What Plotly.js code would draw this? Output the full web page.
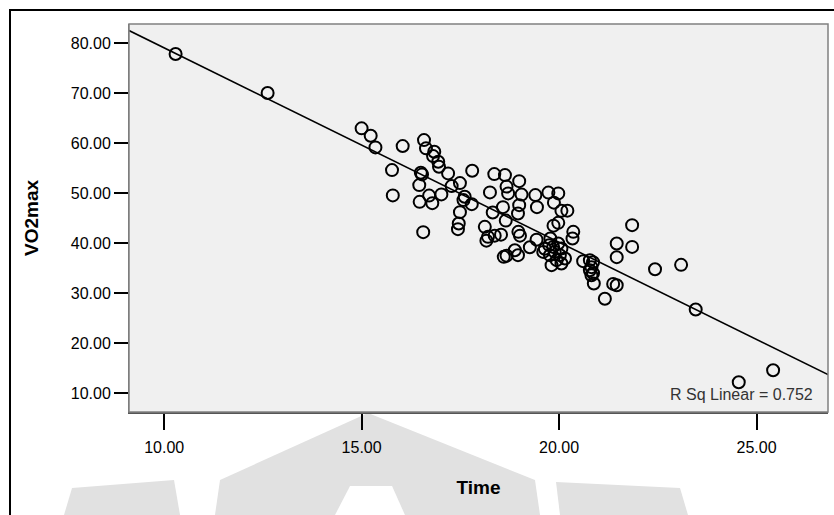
<!DOCTYPE html>
<html>
<head>
<meta charset="utf-8">
<script src="https://cdn.plot.ly/plotly-3.0.1.min.js"></script>
<style>
  html, body { margin: 0; padding: 0; background: #ffffff; }
  #chart { width: 834px; height: 515px; }
</style>
</head>
<body>
<div id="chart"></div>
<script>
// ---- Data ----
const timeValues = [
  10.29, 12.62, 15.00, 15.23, 15.35, 16.04, 15.77, 15.79, 16.58, 16.63,
  16.84, 16.81, 16.94, 16.96, 17.19, 16.50, 16.53, 16.46, 17.80, 17.49,
  17.28, 17.02, 16.71, 16.47, 16.79, 17.61, 17.58, 17.79, 17.49, 17.46,
  17.44, 16.56, 18.36, 18.63, 18.99, 18.25, 18.67, 18.71, 19.05, 19.40,
  19.44, 18.99, 18.96, 18.58, 18.32, 18.65, 19.73, 19.98, 19.87, 20.06,
  20.21, 19.98, 19.86, 18.12, 18.16, 18.20, 18.37, 18.53, 18.97, 19.01,
  19.43, 19.26, 18.88, 18.96, 18.60, 18.67, 19.64, 19.60, 20.36, 20.34,
  19.78, 19.75, 19.85, 19.98, 20.06, 19.89, 19.77, 20.02, 19.94, 20.15,
  19.81, 20.06, 20.61, 20.78, 20.86, 20.82, 20.78, 20.86, 20.82, 20.88,
  21.37, 21.46, 21.16, 21.46, 21.46, 21.85, 21.85, 22.43, 23.09, 23.46,
  25.42, 24.55
];
const vo2maxValues = [
  77.89, 70.07, 63.00, 61.51, 59.19, 59.45, 54.64, 49.57, 60.65, 58.99,
  58.31, 57.44, 56.30, 55.30, 53.98, 54.10, 53.78, 51.63, 54.50, 52.03,
  51.43, 49.77, 49.53, 48.28, 48.02, 49.29, 48.63, 47.82, 46.22, 43.95,
  42.81, 42.21, 53.84, 53.64, 52.43, 50.17, 51.33, 49.97, 49.73, 49.63,
  47.22, 47.62, 45.96, 47.22, 46.16, 44.52, 50.13, 49.97, 48.12, 46.48,
  46.52, 44.07, 43.51, 43.27, 40.51, 41.27, 41.51, 41.71, 42.27, 41.51,
  40.71, 39.20, 38.60, 37.60, 37.26, 37.50, 38.90, 38.26, 42.27, 40.95,
  40.95, 39.61, 39.26, 39.95, 38.94, 38.26, 37.60, 37.60, 36.60, 36.94,
  35.60, 35.94, 36.40, 36.60, 36.20, 35.20, 34.59, 33.99, 33.59, 31.93,
  31.85, 31.59, 28.88, 39.95, 37.20, 43.61, 39.26, 34.79, 35.66, 26.72,
  14.55, 12.14
];
const xTickValues = [10, 15, 20, 25];
const yTickValues = [10, 20, 30, 40, 50, 60, 70, 80];
const xTitle = "Time";
const yTitle = "VO2max";
const rSquaredLabel = "R Sq Linear = 0.752";
const xRange = [9.11, 26.81];
const yRange = [6.19, 83.9];

// ---- Least-squares fit line from the data ----
function linearFit(xs, ys) {
  const n = xs.length;
  let sx = 0, sy = 0, sxx = 0, sxy = 0;
  for (let i = 0; i < n; i++) { sx += xs[i]; sy += ys[i]; sxx += xs[i]*xs[i]; sxy += xs[i]*ys[i]; }
  const slope = (n*sxy - sx*sy) / (n*sxx - sx*sx);
  const intercept = (sy - slope*sx) / n;
  return { slope, intercept };
}
const fit = linearFit(timeValues, vo2maxValues);
const fitX = xRange.slice();
const fitY = fitX.map(x => fit.intercept + fit.slope * x);

// ---- Layout geometry (pixels) ----
const W = 834, H = 515;
const PL = 129, PR = 828, PT = 24, PB = 412;
const px2x = p => (p - PL) / (PR - PL);
const py2y = p => (PB - p) / (PB - PT);
function polyPath(pts) {
  return 'M' + pts.map(p => px2x(p[0]).toFixed(4) + ',' + py2y(p[1]).toFixed(4)).join(' L') + ' Z';
}

const traces = [
  {
    type: 'scatter', mode: 'lines',
    x: fitX, y: fitY,
    line: { color: '#000000', width: 1.6 },
    hoverinfo: 'skip', showlegend: false, cliponaxis: true
  },
  {
    type: 'scatter', mode: 'markers',
    x: timeValues, y: vo2maxValues,
    marker: { symbol: 'circle-open', size: 12, color: '#000000', line: { color: '#000000', width: 2 } },
    showlegend: false, cliponaxis: true
  }
];

const axisFont = { family: 'Liberation Sans, Arial, sans-serif', size: 16, color: '#000000' };
const titleFont = { family: 'Liberation Sans, Arial, sans-serif', size: 19, color: '#000000', weight: 'bold' };

const watermark = '#e1e1e1';
const layout = {
  width: W, height: H,
  margin: { l: PL, r: W - PR, t: PT, b: H - PB, pad: 0 },
  paper_bgcolor: '#ffffff',
  plot_bgcolor: '#f0f0f0',
  showlegend: false,
  xaxis: {
    range: xRange,
    tickvals: xTickValues,
    ticktext: xTickValues.map(v => v.toFixed(2)),
    ticks: 'outside', ticklen: 16, tickwidth: 2, tickcolor: '#000000',
    ticklabelstandoff: 4,
    tickfont: axisFont,
    showgrid: false, zeroline: false,
    showline: true, linecolor: '#555555', linewidth: 1.5,
    title: { text: '<b>' + xTitle + '</b>', font: titleFont, standoff: 26 }
  },
  yaxis: {
    range: yRange,
    tickvals: yTickValues,
    ticktext: yTickValues.map(v => v.toFixed(2)),
    ticks: 'outside', ticklen: 14, tickwidth: 2, tickcolor: '#000000',
    tickfont: axisFont,
    showgrid: false, zeroline: false,
    showline: true, linecolor: '#777777', linewidth: 1,
    title: { text: '<b>' + yTitle + '</b>', font: titleFont, standoff: 27 }
  },
  shapes: [
    // plot frame (grey)
    { type: 'rect', xref: 'paper', yref: 'paper', x0: 0, x1: 1, y0: 0, y1: 1,
      line: { color: '#808080', width: 1.5 }, fillcolor: 'rgba(0,0,0,0)', layer: 'above' },
    // outer black frame
    { type: 'rect', xref: 'paper', yref: 'paper',
      x0: px2x(10), x1: px2x(W + 10), y0: py2y(H + 10), y1: py2y(10),
      line: { color: '#000000', width: 2 }, fillcolor: 'rgba(0,0,0,0)', layer: 'above' },
    // faint watermark emblem below the plot
    { type: 'path', xref: 'paper', yref: 'paper', layer: 'below', fillcolor: watermark, line: { width: 0 },
      path: polyPath([[368, 413], [535, 480], [540, 515], [215, 515], [220, 480]]) },
    { type: 'path', xref: 'paper', yref: 'paper', layer: 'below', fillcolor: '#ffffff', line: { width: 0 },
      path: polyPath([[335, 515], [350, 486], [392, 486], [405, 515]]) },
    { type: 'path', xref: 'paper', yref: 'paper', layer: 'below', fillcolor: watermark, line: { width: 0 },
      path: polyPath([[72, 488], [174, 480], [180, 515], [64, 515]]) },
    { type: 'path', xref: 'paper', yref: 'paper', layer: 'below', fillcolor: watermark, line: { width: 0 },
      path: polyPath([[556, 482], [680, 488], [688, 515], [560, 515]]) }
  ],
  annotations: [
    { text: rSquaredLabel, xref: 'paper', yref: 'paper',
      x: px2x(815), y: py2y(394), xanchor: 'right', yanchor: 'middle',
      showarrow: false, font: { family: 'Liberation Sans, Arial, sans-serif', size: 16, color: '#333333' } }
  ]
};

Plotly.newPlot('chart', traces, layout, { displayModeBar: false, staticPlot: true });
</script>
</body>
</html>
